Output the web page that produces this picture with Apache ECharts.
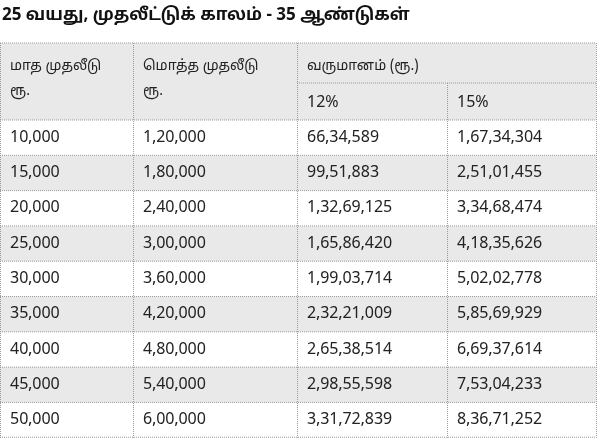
<!DOCTYPE html>
<html><head><meta charset="utf-8">
<script src="https://cdn.jsdelivr.net/npm/echarts@6/dist/echarts.min.js"></script>
<style>body{margin:0}#main{width:600px;height:438px}</style>
</head><body><div id="main"></div>
<script>
// table data
const title = '25 வயது, முதலீட்டுக் காலம் - 35 ஆண்டுகள்';
const headMonthly = ['மாத முதலீடு', 'ரூ.'];
const headTotal = ['மொத்த முதலீடு', 'ரூ.'];
const headIncome = 'வருமானம் (ரூ.)';
const rateLabels = ['12%', '15%'];
const monthly = ['10,000','15,000','20,000','25,000','30,000','35,000','40,000','45,000','50,000'];
const total = ['1,20,000','1,80,000','2,40,000','3,00,000','3,60,000','4,20,000','4,80,000','5,40,000','6,00,000'];
const income12 = ['66,34,589','99,51,883','1,32,69,125','1,65,86,420','1,99,03,714','2,32,21,009','2,65,38,514','2,98,55,598','3,31,72,839'];
const income15 = ['1,67,34,304','2,51,01,455','3,34,68,474','4,18,35,626','5,02,02,778','5,85,69,929','6,69,37,614','7,53,04,233','8,36,71,252'];

const colX = [0, 133, 297, 447, 596];
const tableTop = 43, headMid = 83, headEnd = 120, rowH = 35.3;
const font = '"Noto Sans Tamil", "Noto Sans", "DejaVu Sans", sans-serif';
const gray = '#e9e9e9';
const lineStyle = {stroke: '#9a9a9a', lineWidth: 1, lineDash: [1, 1]};

const els = [];
function rect(x, y, w, h, fill) {
  els.push({type: 'rect', shape: {x, y, width: w, height: h}, style: {fill}, z: 1});
}
function line(x1, y1, x2, y2) {
  els.push({type: 'line', shape: {x1, y1, x2, y2}, style: lineStyle, z: 3});
}
function text(t, x, y, opts) {
  els.push({type: 'text', x, y, style: Object.assign({text: t, fill: '#222', font: '16px ' + font, textVerticalAlign: 'middle'}, opts || {}), z: 4});
}

const bottom = headEnd + rowH * monthly.length;
rect(0, tableTop, 596, headEnd - tableTop, gray);
monthly.forEach((m, i) => {
  const y = headEnd + i * rowH;
  if (i % 2 === 1) rect(0, y, 596, rowH, gray);
  const cells = [m, total[i], income12[i], income15[i]];
  cells.forEach((c, j) => text(c, colX[j] + 10, y + rowH / 2 + 1));
  line(0, y, 596, y);
});
line(0, tableTop, 596, tableTop);
line(colX[2], headMid, 596, headMid);
line(0, bottom - 0.5, 596, bottom - 0.5);
colX.forEach((x, j) => line(x + 0.5, j === 3 ? headMid : tableTop, x + 0.5, bottom));

text(title, 2, 17, {font: 'bold 17px ' + font, fill: '#111'});
text(headMonthly[0], 10, 67, {font: '14px ' + font});
text(headMonthly[1], 10, 92, {font: '14px ' + font});
text(headTotal[0], colX[1] + 10, 67, {font: '14px ' + font});
text(headTotal[1], colX[1] + 10, 92, {font: '14px ' + font});
text(headIncome, colX[2] + 10, 67, {font: '14px ' + font});
text(rateLabels[0], colX[2] + 10, 104);
text(rateLabels[1], colX[3] + 10, 104);

const chart = echarts.init(document.getElementById('main'));
chart.setOption({backgroundColor: '#fff', graphic: {elements: els}});
</script></body></html>
